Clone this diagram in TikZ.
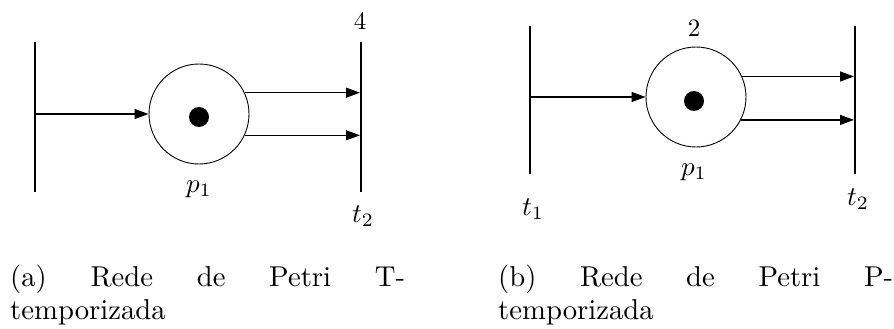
\documentclass[tikz,border=0pt]{standalone}
\usetikzlibrary{arrows.meta}
\begin{document}
\begin{tikzpicture}[x=1pt,y=-1pt,
  place/.style={circle,draw,line width=0.9pt,minimum size=100pt,inner sep=0pt},
  token/.style={circle,fill=black,minimum size=20pt,inner sep=0pt},
  tbar/.style={rectangle,fill=black,minimum width=1.6pt,inner sep=0pt},
  arc/.style={line width=1.2pt,-{Triangle[length=14pt,width=10pt]}},
  lbl/.style={inner sep=0pt},
  capline/.style={anchor=base west,inner sep=0pt}]
\newcommand{\numlbl}[1]{\scalebox{2.5}{#1}}
\newcommand{\mathlbl}[1]{\scalebox{2.7}{$#1$}}
\useasboundingbox (0,0) rectangle (894,329);
% (a)
\node[tbar,minimum height=150pt] (t1a) at (35,117) {};
\node[tbar,minimum height=150pt] (t2a) at (361,117) {};
\node[place] (pa) at (199,114) {};
\node[token] (ka) at (199,117) {};
\draw[arc] (t1a.east |- pa) -- (pa.west);
\draw[arc] (pa.25) -- (pa.25 -| t2a.west);
\draw[arc] (pa.-25) -- (pa.-25 -| t2a.west);
\node[lbl] (da) at (360,21) {\numlbl{4}};
\node[lbl] (pla) at (199,189) {\mathlbl{p_1}};
\node[lbl] (tla) at (363,216) {\mathlbl{t_2}};
% (b)
\node[tbar,minimum height=148pt] (t1b) at (530,100) {};
\node[tbar,minimum height=148pt] (t2b) at (855,100) {};
\node[place] (pb) at (696,97) {};
\node[token] (kb) at (694,101) {};
\draw[arc] (t1b.east |- pb) -- (pb.west);
\draw[arc] (pb.24) -- (pb.24 -| t2b.west);
\draw[arc] (pb.-27) -- (pb.-27 -| t2b.west);
\node[lbl] (db) at (694,28) {\numlbl{2}};
\node[lbl] (plb) at (694,172) {\mathlbl{p_1}};
\node[lbl] (tlb1) at (533,209) {\mathlbl{t_1}};
\node[lbl] (tlb2) at (858,199) {\mathlbl{t_2}};
% captions
\node[capline] (ca1) at (10,286) {\scalebox{2.87}{\makebox[137.6pt][s]{(a) Rede de Petri T-}}};
\node[capline] (ca2) at (10,319) {\scalebox{2.87}{temporizada}};
\node[capline] (cb1) at (498,286) {\scalebox{2.87}{\makebox[137.6pt][s]{(b) Rede de Petri P-}}};
\node[capline] (cb2) at (498,319) {\scalebox{2.87}{temporizada}};
\end{tikzpicture}
\end{document}
